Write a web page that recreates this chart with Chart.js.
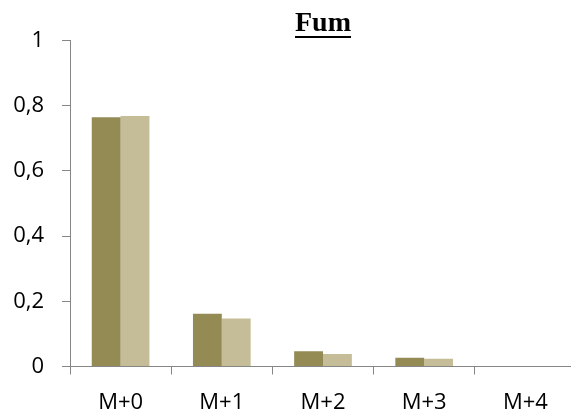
<!DOCTYPE html>
<html>
<head>
<meta charset="utf-8">
<script src="https://cdn.jsdelivr.net/npm/chart.js@4/dist/chart.umd.min.js"></script>
<style>
  html, body { margin: 0; padding: 0; background: #fff; overflow: hidden; }
  #wrap { width: 576px; height: 414px; }
</style>
</head>
<body>
<div id="wrap"><canvas id="chart"></canvas></div>
<script>
const categories = ['M+0', 'M+1', 'M+2', 'M+3', 'M+4'];
const seriesA = [0.765, 0.162, 0.047, 0.027, 0];
const seriesB = [0.769, 0.147, 0.038, 0.024, 0];
const yTicks = [0, 0.2, 0.4, 0.6, 0.8, 1];

const axisColor = '#868686';

// underline under the title text
const underlineTitle = {
    id: 'underlineTitle',
    afterDraw(chart) {
        const t = chart.titleBlock;
        if (!t) return;
        const ctx = chart.ctx;
        ctx.save();
        ctx.font = 'bold 28px "Liberation Serif"';
        const w = ctx.measureText(t.options.text).width;
        const cx = t.left + t.width / 2;
        const y = t.top + t.options.padding.top + 29;
        ctx.fillStyle = '#000';
        ctx.fillRect(cx - w / 2, y, w, 2);
        ctx.restore();
    }
};

new Chart(document.getElementById('chart'), {
    type: 'bar',
    data: {
        labels: categories,
        datasets: [
            { data: seriesA, backgroundColor: '#948A54' },
            { data: seriesB, backgroundColor: '#C4BD97' }
        ]
    },
    options: {
        responsive: true,
        maintainAspectRatio: false,
        animation: false,
        layout: { padding: 0 },
        datasets: {
            bar: { categoryPercentage: 0.57, barPercentage: 1, borderWidth: 0 }
        },
        plugins: {
            legend: { display: false },
            tooltip: { enabled: false },
            title: {
                display: true,
                text: 'Fum',
                fullSize: false,
                color: '#000',
                font: { family: '"Liberation Serif"', size: 28, weight: 'bold' },
                padding: { top: 7, bottom: 0 }
            }
        },
        scales: {
            x: {
                afterFit(axis) { axis.height = 47.5; },
                grid: { offset: true, drawOnChartArea: false, tickLength: 8, color: axisColor },
                border: { color: axisColor, width: 1 },
                ticks: {
                    color: '#000',
                    padding: 15,
                    font: { family: '"Open Sans"', size: 22 }
                }
            },
            y: {
                min: 0,
                max: 1,
                afterFit(axis) { axis.width = 70; },
                afterBuildTicks(axis) { axis.ticks = yTicks.map(v => ({ value: v })); },
                grid: { drawOnChartArea: false, tickLength: 8, color: axisColor },
                border: { color: axisColor, width: 1 },
                ticks: {
                    color: '#000',
                    padding: 18,
                    font: { family: '"Open Sans"', size: 22 },
                    callback: v => String(Math.round(v * 10) / 10).replace('.', ',')
                }
            }
        }
    },
    plugins: [underlineTitle]
});
</script>
</body>
</html>
